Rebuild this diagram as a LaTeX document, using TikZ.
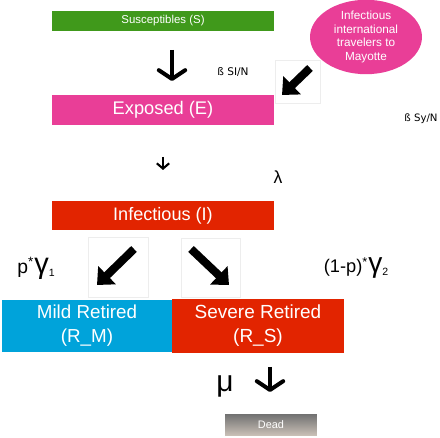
\documentclass[tikz,border=0pt]{standalone}
\usepackage{fontspec}
\setmainfont{Liberation Sans}
\newfontfamily\dejavu{DejaVu Sans}
\usepackage{tikz}
\usetikzlibrary{shapes,arrows.meta,positioning}

\definecolor{sgreen}{RGB}{64,153,27}
\definecolor{epink}{RGB}{233,62,151}
\definecolor{ired}{RGB}{226,36,0}
\definecolor{rblue}{RGB}{0,163,218}

\begin{document}
\begin{tikzpicture}[x=0.02cm, y=-0.02cm]
			\tikzstyle{Box}		= [rectangle, inner sep=0pt, text=white, align=center]
			\tikzstyle{Label}	= [inner sep=0pt]
			\tikzstyle{Down}	= [line width=2.3pt, -{Straight Barb[length=5pt, width=15pt, line cap=round, line join=round]}]
			\tikzstyle{Small}	= [line width=1.2pt, -{Straight Barb[length=3pt, width=7pt]}]
			\tikzstyle{Diag}	= [line width=4.6pt, -{Triangle[length=8pt, width=14pt]}]
			\tikzstyle{Frame}	= [draw=black!7, line width=0.3pt]

			\useasboundingbox (0,0) rectangle (440,438);

			% compartments
			\node (S) at (163, 21) [Box, fill=sgreen, minimum width=4.44cm, minimum height=0.4cm, font=\fontsize{6.5}{7}\selectfont] {Susceptibles (S)};
			\node (T) at (366, 37) [ellipse, fill=epink, text=white, inner sep=0pt, minimum width=2.24cm, minimum height=1.4cm, align=center, font=\fontsize{6.7}{7.9}\selectfont] {Infectious\\international\\travelers to\\Mayotte};
			\node (E) at (163, 110) [Box, fill=epink, minimum width=4.44cm, minimum height=0.6cm, font=\fontsize{10.4}{11}\selectfont] {Exposed (E)};
			\node (I) at (163, 216) [Box, fill=ired, minimum width=4.44cm, minimum height=0.58cm, font=\fontsize{10.3}{11}\selectfont] {Infectious (I)};
			\node (RM) at (87, 326) [Box, fill=rblue, minimum width=3.42cm, minimum height=1.06cm, font=\fontsize{10.7}{13.6}\selectfont] {Mild Retired\\(R\_M)};
			\node (RS) at (258, 326) [Box, fill=ired, minimum width=3.44cm, minimum height=1.08cm, font=\fontsize{10.8}{13.6}\selectfont] {Severe Retired\\(R\_S)};
			\node (D) at (271, 425) [Box, top color=black!55, bottom color=black!20!white!85!brown, minimum width=1.84cm, minimum height=0.42cm, font=\fontsize{6.2}{7}\selectfont] {Dead};

			% rates
			\node (b1) at (233, 72) [Label, font=\dejavu\fontsize{6}{7}\selectfont] {ß SI/N};
			\node (b2) at (421, 119) [Label, font=\dejavu\fontsize{5.8}{7}\selectfont] {ß Sy/N};
			\node (lam) at (278, 177) [Label, font=\fontsize{10}{11}\selectfont] {λ};
			\node (g1) at (36, 268) [Label, font=\fontsize{11}{12}\selectfont] {p\textsuperscript{*}{\fontsize{16.5}{16}\selectfont γ}\raisebox{-0.3ex}{\fontsize{6}{6}\selectfont 1}};
			\node (g2) at (356, 268) [Label, font=\fontsize{10.4}{12}\selectfont] {(1-p)\textsuperscript{*}{\fontsize{16}{16}\selectfont γ}\raisebox{-0.3ex}{\fontsize{6}{6}\selectfont 2}};
			\node (mu) at (225, 386) [Label, font=\fontsize{17}{17}\selectfont] {μ};

			% arrow ends
			\coordinate (se1) at (172, 50);
			\coordinate (se2) at (172, 81);
			\coordinate (te1) at (310, 68);
			\coordinate (te2) at (282, 95);
			\coordinate (ei1) at (163, 157);
			\coordinate (ei2) at (163, 170);
			\coordinate (im1) at (134, 249);
			\coordinate (im2) at (97, 285);
			\coordinate (is1) at (191, 249);
			\coordinate (is2) at (229, 285);
			\coordinate (sd1) at (270, 367);
			\coordinate (sd2) at (270, 392);

			% faint image frames
			\draw [Frame] (275, 60) rectangle (320, 103);
			\draw [Frame] (88, 237) rectangle (148, 297);
			\draw [Frame] (181, 238) rectangle (240, 297);

			\draw (se1) to (se2) [Down];
			\draw (te1) to (te2) [Diag];
			\draw (ei1) to (ei2) [Small];
			\draw (im1) to (im2) [Diag];
			\draw (is1) to (is2) [Diag];
			\draw (sd1) to (sd2) [Down];
		\end{tikzpicture}
\end{document}
